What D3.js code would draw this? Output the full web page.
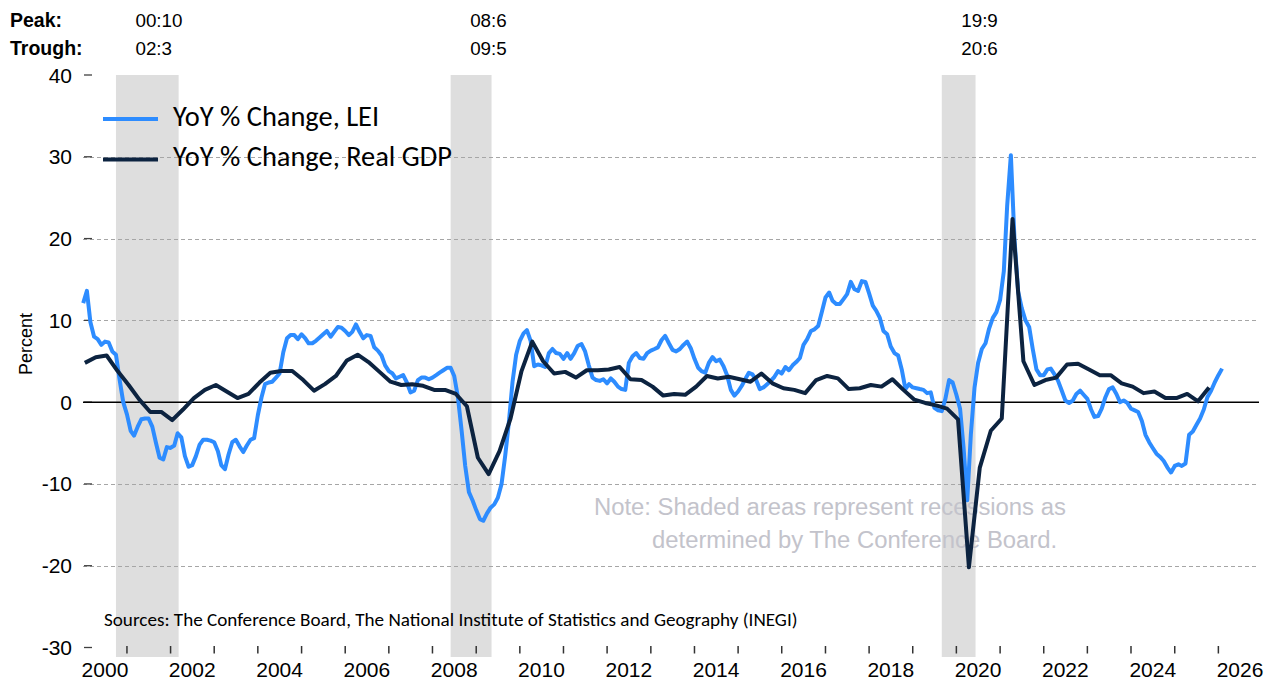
<!DOCTYPE html>
<html><head><meta charset="utf-8">
<script src="https://cdn.jsdelivr.net/npm/d3@7"></script>
<style>body{margin:0;background:#fff} svg{display:block}</style>
</head><body><svg id="c" width="1271" height="681"></svg>
<script>
// ---- DATA ----
// LEI, YoY % change, monthly from Jan 2000
const leiValues = [
  12.1, 13.6, 9.8, 8.0, 7.7, 7.0, 7.4, 7.3, 6.2, 5.8, 2.7, 0.0,
  -1.5, -3.5, -4.1, -3.0, -2.1, -2.0, -2.0, -3.0, -5.0, -6.8, -7.0, -5.5,
  -5.6, -5.3, -3.8, -4.3, -6.6, -7.9, -7.7, -6.6, -5.2, -4.6, -4.6, -4.7,
  -4.9, -6.0, -7.7, -8.2, -6.4, -4.9, -4.6, -5.4, -6.1, -5.3, -4.6, -4.4,
  -1.6, 0.6, 2.2, 2.4, 2.5, 3.0, 3.5, 6.1, 7.8, 8.2, 8.2, 7.7,
  8.3, 7.8, 7.2, 7.2, 7.5, 7.9, 8.3, 8.7, 8.0, 8.6, 9.2, 9.1,
  8.7, 8.2, 8.6, 9.5, 8.6, 7.8, 8.2, 8.1, 6.7, 6.3, 5.7, 4.5,
  3.8, 3.5, 2.9, 3.1, 3.3, 2.4, 1.2, 1.4, 2.7, 3.0, 3.0, 2.8,
  3.0, 3.3, 3.6, 3.9, 4.2, 4.2, 3.2, 0.6, -3.5, -7.8, -11.0, -12.0,
  -13.2, -14.3, -14.5, -13.6, -12.9, -12.5, -11.7, -10.0, -6.5, -2.5, 2.5, 5.8,
  7.5, 8.4, 8.8, 7.5, 4.4, 4.6, 4.5, 4.3, 6.0, 6.5, 6.0, 5.9,
  5.3, 6.0, 5.3, 6.0, 6.9, 7.1, 6.2, 4.5, 3.0, 2.7, 2.6, 2.8,
  2.3, 2.9, 2.5, 1.9, 1.6, 1.5, 4.8, 5.6, 6.0, 5.4, 5.3, 6.0,
  6.3, 6.5, 6.7, 7.6, 8.1, 7.2, 6.4, 6.2, 6.5, 7.0, 7.4, 6.6,
  5.3, 4.2, 3.8, 3.6, 4.8, 5.5, 5.0, 5.2, 4.4, 3.3, 1.5, 0.8,
  1.3, 2.0, 2.8, 3.6, 3.4, 2.7, 1.6, 1.8, 2.2, 2.6, 3.1, 3.8,
  3.5, 4.3, 3.9, 4.5, 4.9, 5.4, 7.0, 7.7, 8.7, 8.9, 9.3, 11.0,
  12.8, 13.4, 12.4, 12.0, 12.0, 12.6, 13.2, 14.7, 13.8, 13.6, 14.8, 14.7,
  13.3, 11.8, 11.2, 10.3, 8.7, 8.3, 6.8, 6.0, 5.7, 4.0, 1.6, 2.2,
  1.8, 1.7, 1.6, 1.5, 1.1, 1.2, -0.7, -1.0, -1.1, 0.4, 2.7, 2.4,
  0.9, -0.8, -5.5, -12.0, -4.0, 1.8, 4.8, 6.5, 7.2, 9.0, 10.3, 11.0,
  12.5, 16.0, 24.0, 30.2, 20.0, 13.5, 11.5, 10.0, 9.2, 6.5, 4.0, 3.3,
  3.3, 4.0, 4.1, 3.4, 2.6, 1.4, 0.2, -0.1, 0.2, 1.0, 1.4, 0.9,
  0.4, -0.9, -1.8, -1.7, -0.8, 0.6, 1.6, 1.8, 1.0, 0.0, 0.2, -0.1,
  -0.8, -1.0, -1.2, -2.3, -4.0, -4.9, -5.6, -6.3, -6.7, -7.2, -8.0, -8.6,
  -7.8, -7.6, -7.8, -7.5, -4.0, -3.6, -2.8, -2.0, -0.9, 0.6, 1.4, 2.4,
  3.3, 4.1
];
// Real GDP, YoY % change, quarterly from 2000Q1
const gdpValues = [
  4.8, 5.5, 5.7, 3.8,
  2.1, 0.3, -1.2, -1.2,
  -2.2, -0.9, 0.5, 1.5,
  2.1, 1.3, 0.5, 1.0,
  2.4, 3.6, 3.8, 3.8,
  2.7, 1.4, 2.2, 3.2,
  5.1, 5.8, 4.9, 3.7,
  2.5, 2.1, 2.2, 2.0,
  1.5, 1.5, 1.0, -0.5,
  -6.8, -8.8, -6.0, -2.0,
  3.8, 7.4, 5.0, 3.5,
  3.7, 3.0, 3.9, 3.9,
  4.0, 4.3, 2.8, 2.7,
  1.9, 0.8, 1.0, 0.9,
  1.9, 3.2, 2.9, 3.1,
  2.8, 2.5, 3.5, 2.3,
  1.7, 1.5, 1.1, 2.7,
  3.2, 2.9, 1.6, 1.7,
  2.1, 1.9, 2.8, 1.5,
  0.3, -0.1, -0.4, -0.8,
  -2.1, -20.2, -8.0, -3.5,
  -2.0, 22.4, 5.0, 2.1,
  2.7, 3.0, 4.6, 4.7,
  4.0, 3.3, 3.3, 2.3,
  1.9, 1.1, 1.3, 0.5,
  0.5, 1.0, 0.1, 1.8
];
const recessionPeaks   = ["2000-10", "2008-06", "2019-09"];
const recessionTroughs = ["2002-03", "2009-05", "2020-06"];
const peakLabels   = ["00:10", "08:6", "19:9"];
const troughLabels = ["02:3", "09:5", "20:6"];
const yTickValues = [-30, -20, -10, 0, 10, 20, 30, 40];
const gridValues  = [-20, -10, 10, 20, 30];
const xLabelYears = [2000, 2002, 2004, 2006, 2008, 2010, 2012, 2014, 2016, 2018, 2020, 2022, 2024, 2026];
const xTickYears  = d3.range(2001, 2027);
const seriesNames = ["YoY % Change, LEI", "YoY % Change, Real GDP"];
const seriesColors = ["#2d8cff", "#0c2340"];

// ---- CHART ----
const svg = d3.select("#c");
const ARIAL = "'Liberation Sans', Arial, sans-serif";
const CALIBRI = "Carlito, Lato, 'Open Sans', sans-serif";
const plotL = 83, plotR = 1259;

const x = d3.scaleTime().domain([new Date(2000,0,1), new Date(2027,0,1)]).range([83.2, 1262]);
const y = d3.scaleLinear().domain([-30, 40]).range([647.5, 75]);
const parseYM = d3.timeParse("%Y-%m");

const lei = leiValues.map((v,i) => ({date: new Date(2000, i, 1), v}));
const gdp = gdpValues.map((v,i) => ({date: new Date(2000, 3*i, 15), v}));

// recession bands
const rec = recessionPeaks.map((p,i) => ({p: parseYM(p), t: parseYM(recessionTroughs[i]), pl: peakLabels[i], tl: troughLabels[i]}));
svg.append("g").selectAll("rect").data(rec).join("rect")
  .attr("x", d => x(d.p)).attr("width", d => x(d.t) - x(d.p) + 1)
  .attr("y", y(40)).attr("height", 657 - y(40))
  .attr("fill", "#dedede");

// gridlines
svg.append("g").selectAll("line").data(gridValues).join("line")
  .attr("x1", plotL).attr("x2", plotR)
  .attr("y1", d => Math.round(y(d)) + 0.5).attr("y2", d => Math.round(y(d)) + 0.5)
  .attr("stroke", "#a6a6a6").attr("stroke-width", 1).attr("stroke-dasharray", "4,3");

// y tick marks & labels
const yg = svg.append("g");
yg.selectAll("line").data(yTickValues).join("line")
  .attr("x1", 84).attr("x2", 92)
  .attr("y1", d => y(d)).attr("y2", d => y(d))
  .attr("stroke", "#404040").attr("stroke-width", 1.3);
yg.selectAll("text").data(yTickValues).join("text")
  .attr("x", 72).attr("y", d => y(d) + 7.5)
  .attr("text-anchor", "end").attr("font-family", ARIAL).attr("font-size", 21)
  .attr("fill", "#000").text(d => d);

// x ticks & labels
svg.append("g").selectAll("line").data(xTickYears).join("line")
  .attr("x1", d => x(new Date(d,0,1))).attr("x2", d => x(new Date(d,0,1)))
  .attr("y1", 646).attr("y2", 653.5)
  .attr("stroke", "#333").attr("stroke-width", 1.5);
svg.append("g").selectAll("text").data(xLabelYears).join("text")
  .attr("x", d => x(new Date(d,6,1))).attr("y", 677)
  .attr("text-anchor", "middle").attr("font-family", ARIAL).attr("font-size", 21)
  .attr("fill", "#000").text(d => d);

// zero line
svg.append("line").attr("x1", plotL).attr("x2", plotR)
  .attr("y1", y(0)).attr("y2", y(0)).attr("stroke", "#000").attr("stroke-width", 1.5);

// Percent label
svg.append("text").attr("transform", "translate(31.5,344) rotate(-90)")
  .attr("text-anchor", "middle").attr("font-family", ARIAL).attr("font-size", 18)
  .text("Percent");

// note
const note = svg.append("g").attr("font-family", ARIAL).attr("fill", "#c3c3cb");
const n1 = note.append("text").attr("x", 594).attr("y", 515).attr("font-size", 22.5)
  .text("Note: Shaded areas represent recessions as");
const n2 = note.append("text").attr("x", 652).attr("y", 547.5).attr("font-size", 22.5)
  .text("determined by The Conference Board.");
{
  const w = n1.node().getComputedTextLength();
  const fs = 22.5 * 472 / w;
  n1.attr("font-size", fs); n2.attr("font-size", fs);
}

// sources
const src = svg.append("text").attr("x", 104).attr("y", 626)
  .attr("font-family", CALIBRI).attr("font-size", 16).attr("fill", "#000")
  .text("Sources: The Conference Board, The National Institute of Statistics and Geography (INEGI)");
{
  const w = src.node().getComputedTextLength();
  src.attr("font-size", 16 * 694 / w);
}

// lines
const line = d3.line().x(d => x(d.date)).y(d => y(d.v));
svg.append("path").datum(lei).attr("d", line)
  .attr("fill", "none").attr("stroke", seriesColors[0]).attr("stroke-width", 4).attr("stroke-linejoin", "round");
svg.append("path").datum(gdp).attr("d", line)
  .attr("fill", "none").attr("stroke", seriesColors[1]).attr("stroke-width", 4).attr("stroke-linejoin", "round");

// legend
const lg = svg.append("g");
const legY = [119, 159.5];
lg.selectAll("line").data(seriesNames).join("line")
  .attr("x1", 103).attr("x2", 158)
  .attr("y1", (d,i) => legY[i]).attr("y2", (d,i) => legY[i])
  .attr("stroke", (d,i) => seriesColors[i]).attr("stroke-width", 4);
const lt = lg.selectAll("text").data(seriesNames).join("text")
  .attr("x", 173).attr("y", (d,i) => legY[i] + 6.5)
  .attr("font-family", CALIBRI).attr("font-size", 24).attr("fill", "#000")
  .text(d => d);
{
  const w = lt.nodes()[1].getComputedTextLength();
  lt.attr("font-size", 24 * 279 / w);
}

// peak / trough header
const hdr = svg.append("g").attr("font-family", ARIAL);
hdr.append("text").attr("x", 10).attr("y", 27).attr("font-size", 19.5).attr("font-weight", "bold").text("Peak:");
hdr.append("text").attr("x", 10).attr("y", 54.5).attr("font-size", 19.5).attr("font-weight", "bold").text("Trough:");
hdr.selectAll("text.pk").data(rec).join("text").attr("class","pk")
  .attr("x", d => x(d.p) + 19.5).attr("y", 27).attr("font-size", 18.8).text(d => d.pl);
hdr.selectAll("text.tr").data(rec).join("text").attr("class","tr")
  .attr("x", d => x(d.p) + 19.5).attr("y", 54.5).attr("font-size", 18.8).text(d => d.tl);
</script>
</body></html>
